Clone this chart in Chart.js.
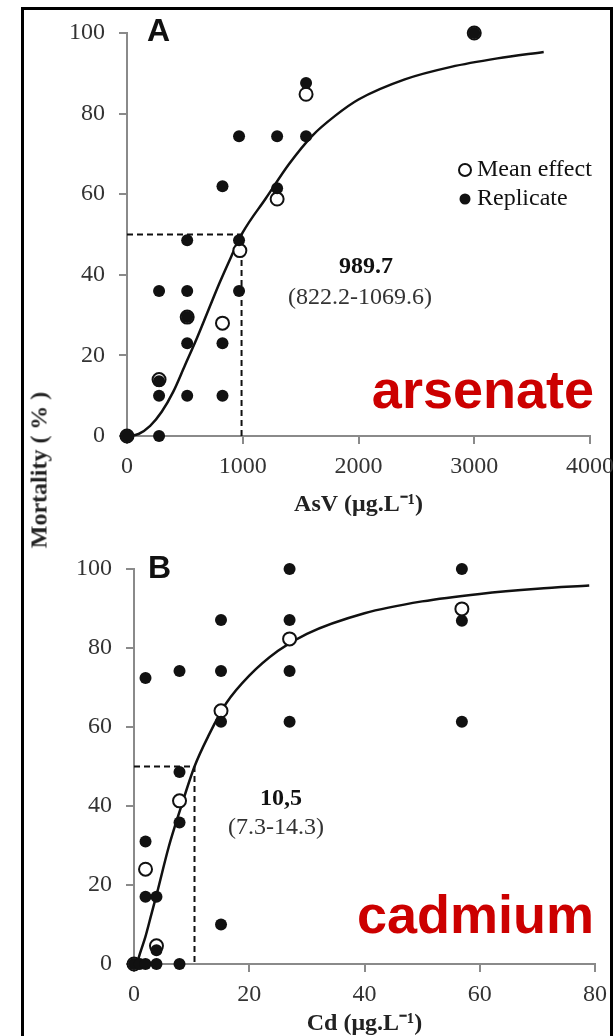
<!DOCTYPE html>
<html>
<head>
<meta charset="utf-8">
<script src="https://cdn.jsdelivr.net/npm/chart.js@4.4.1/dist/chart.umd.min.js"></script>
<style>
  html, body { margin: 0; padding: 0; background: #fff; }
  #page { position: relative; width: 613px; height: 1036px; overflow: hidden; background: #fff; }
  #frame { position: absolute; left: 21px; top: 7px; width: 592px; height: 1060px;
           box-sizing: border-box; border: 3px solid #000; border-bottom: none; }
  #chartA { position: absolute; left: 0; top: 0; }
  #chartB { position: absolute; left: 0; top: 530px; }
  #ylabel { position: absolute; left: 39px; top: 470px; transform: translate(-50%, -50%) rotate(-90deg);
            font: bold 24px "Liberation Serif", serif; color: #222; white-space: nowrap; }
</style>
</head>
<body>
<div id="page">
  <div id="frame"></div>
  <canvas id="chartA" width="613" height="530"></canvas>
  <canvas id="chartB" width="613" height="506"></canvas>
  <div id="ylabel">Mortality ( % )</div>
</div>
<script>
// ── Panel A : arsenate (AsV) ──
const asRepX   = [0, 0, 277, 277, 277, 277, 520, 520, 520, 520, 520, 825, 825, 825, 968, 968, 968, 1297, 1297, 1547, 1547, 3000];
const asRepY   = [0, 0, 36, 13.6, 10, 0, 48.6, 36, 29.5, 23, 10, 62, 23, 10, 74.4, 48.6, 36, 74.4, 61.5, 87.6, 74.4, 100];
const asMeanX  = [0, 277, 520, 825, 975, 1297, 1547, 3000];
const asMeanY  = [0, 14, 29.5, 28, 46, 58.8, 84.8, 100];
const asFitX   = [0, 100, 200, 300, 400, 500, 600, 700, 800, 900, 1000, 1200, 1400, 1600, 1800, 2000, 2400, 2800, 3200, 3600];
const asFitY   = [0, 0.5, 2.5, 6, 11, 17.5, 24, 31, 38, 44.5, 50.5, 59, 67.5, 74.5, 79.5, 83.5, 88.5, 91.6, 93.7, 95.3];
const asEC50   = 989.7;
const asXTicks = [0, 1000, 2000, 3000, 4000];

// ── Panel B : cadmium (Cd) ──
const cdRepX   = [0, 1, 2, 2, 2, 2, 3.9, 3.9, 3.9, 7.9, 7.9, 7.9, 7.9, 15.1, 15.1, 15.1, 15.1, 27, 27, 27, 27, 56.9, 56.9, 56.9];
const cdRepY   = [0, 0, 72.4, 31, 17, 0, 17, 3.5, 0, 74.2, 48.6, 35.8, 0, 87.1, 74.2, 61.3, 10, 100, 87.1, 74.2, 61.3, 100, 86.9, 61.3];
const cdMeanX  = [0, 2, 3.9, 7.9, 15.1, 27, 56.9];
const cdMeanY  = [0, 24, 4.6, 41.3, 64.1, 82.3, 89.9];
const cdFitX   = [0.5, 1, 2, 3, 4, 6, 8, 10.5, 13, 16, 20, 25, 30, 40, 50, 60, 70, 79];
const cdFitY   = [0, 2.5, 7, 12.5, 18, 29.5, 39, 50, 58, 66, 73, 79.3, 83.6, 88.8, 91.8, 93.7, 95, 95.8];
const cdEC50   = 10.5;
const cdXTicks = [0, 20, 40, 60, 80];

const yTicks = [0, 20, 40, 60, 80, 100];

const SERIF = '"Liberation Serif", "Times New Roman", serif';
const SANS  = '"Liberation Sans", Arial, sans-serif';
const AXIS  = '#8a8a8a';
const INK   = '#111';

const pts = (xs, ys) => xs.map((x, i) => ({ x, y: ys[i] }));

// text drawn on top of the panel (labels, legend, EC50)
function notesPlugin(notes) {
  return {
    id: 'notes',
    afterDraw(chart) {
      const ctx = chart.ctx;
      ctx.save();
      notes.forEach(n => {
        if (n.dot) {
          ctx.beginPath();
          ctx.arc(n.x, n.y, n.r, 0, Math.PI * 2);
          if (n.open) { ctx.fillStyle = '#fff'; ctx.fill(); ctx.lineWidth = 2; ctx.strokeStyle = INK; ctx.stroke(); }
          else { ctx.fillStyle = INK; ctx.fill(); }
          return;
        }
        ctx.font = n.font;
        ctx.fillStyle = n.color || INK;
        ctx.textAlign = n.align || 'left';
        ctx.textBaseline = n.base || 'alphabetic';
        ctx.fillText(n.text, n.x, n.y);
      });
      ctx.restore();
    }
  };
}

function makePanel(id, o) {
  const scaleCommon = {
    type: 'linear',
    grid: { display: true, drawOnChartArea: false, drawTicks: true, tickLength: 8, color: AXIS, lineWidth: 2 },
    border: { display: true, color: AXIS, width: 2 },
  };
  return new Chart(document.getElementById(id), {
    type: 'scatter',
    data: {
      datasets: [
        { label: 'Replicate', data: pts(o.repX, o.repY), order: 0, clip: false,
          pointRadius: 6, pointHoverRadius: 6, backgroundColor: INK, borderWidth: 0 },
        { label: 'Mean effect', data: pts(o.meanX, o.meanY), order: 1, clip: false,
          pointRadius: 6.5, pointHoverRadius: 6.5, backgroundColor: '#fff', borderColor: INK, borderWidth: 2 },
        { label: 'fit', data: pts(o.fitX, o.fitY), order: 2, clip: false, showLine: true,
          pointRadius: 0, borderColor: INK, borderWidth: 2.5, cubicInterpolationMode: 'monotone' },
        { label: 'EC50', data: [{ x: 0, y: 50 }, { x: o.ec50, y: 50 }, { x: o.ec50, y: 0 }], order: 3, clip: false,
          showLine: true, pointRadius: 0, borderColor: INK, borderWidth: 2, borderDash: [6, 4] },
      ]
    },
    options: {
      responsive: false,
      animation: false,
      events: [],
      layout: { padding: o.pad },
      plugins: { legend: { display: false }, tooltip: { enabled: false } },
      scales: {
        x: Object.assign({}, scaleCommon, {
          min: o.xTicks[0], max: o.xTicks[o.xTicks.length - 1],
          afterBuildTicks: s => { s.ticks = o.xTicks.map(v => ({ value: v })); },
          afterFit: s => { s.height = o.xH; s.paddingLeft = 0; s.paddingRight = 0; },
          ticks: { font: { family: SERIF, size: 24 }, color: '#333', padding: 8, maxRotation: 0, autoSkip: false,
                   callback: v => String(v) },
          title: { display: true, text: o.xTitle, color: '#222', padding: 0,
                   font: { family: SERIF, size: 24, weight: 'bold', lineHeight: 1 } },
        }),
        y: Object.assign({}, scaleCommon, {
          min: 0, max: 100,
          afterBuildTicks: s => { s.ticks = yTicks.map(v => ({ value: v })); },
          afterFit: s => { s.width = o.yW; s.paddingTop = 0; s.paddingBottom = 0; },
          ticks: { font: { family: SERIF, size: 24 }, color: '#333', padding: 14, callback: v => String(v) },
        }),
      }
    },
    plugins: [notesPlugin(o.notes)]
  });
}

makePanel('chartA', {
  repX: asRepX, repY: asRepY, meanX: asMeanX, meanY: asMeanY, fitX: asFitX, fitY: asFitY,
  ec50: asEC50, xTicks: asXTicks, xTitle: 'AsV (μg.L⁻¹)',
  pad: { left: 0, top: 33, right: 23, bottom: 13 }, xH: 81, yW: 127,
  notes: [
    { text: 'A', x: 147, y: 41, font: 'bold 32px ' + SANS },
    { dot: true, open: true, x: 465, y: 170, r: 6 },
    { text: 'Mean effect', x: 477, y: 170, base: 'middle', font: '24px ' + SERIF },
    { dot: true, x: 465, y: 199, r: 5.5 },
    { text: 'Replicate', x: 477, y: 199, base: 'middle', font: '24px ' + SERIF },
    { text: '989.7', x: 366, y: 267, align: 'center', base: 'middle', font: 'bold 24px ' + SERIF },
    { text: '(822.2-1069.6)', x: 360, y: 298, align: 'center', base: 'middle', font: '24px ' + SERIF, color: '#333' },
    { text: 'arsenate', x: 594, y: 408, align: 'right', font: 'bold 54px ' + SANS, color: '#cc0000' },
  ]
});

makePanel('chartB', {
  repX: cdRepX, repY: cdRepY, meanX: cdMeanX, meanY: cdMeanY, fitX: cdFitX, fitY: cdFitY,
  ec50: cdEC50, xTicks: cdXTicks, xTitle: 'Cd (μg.L⁻¹)',
  pad: { left: 0, top: 39, right: 18, bottom: 0 }, xH: 72, yW: 134,
  notes: [
    { text: 'B', x: 148, y: 48, font: 'bold 32px ' + SANS },
    { text: '10,5', x: 281, y: 269, align: 'center', base: 'middle', font: 'bold 24px ' + SERIF },
    { text: '(7.3-14.3)', x: 276, y: 298, align: 'center', base: 'middle', font: '24px ' + SERIF, color: '#333' },
    { text: 'cadmium', x: 594, y: 403, align: 'right', font: 'bold 54px ' + SANS, color: '#cc0000' },
  ]
});
</script>
</body>
</html>
